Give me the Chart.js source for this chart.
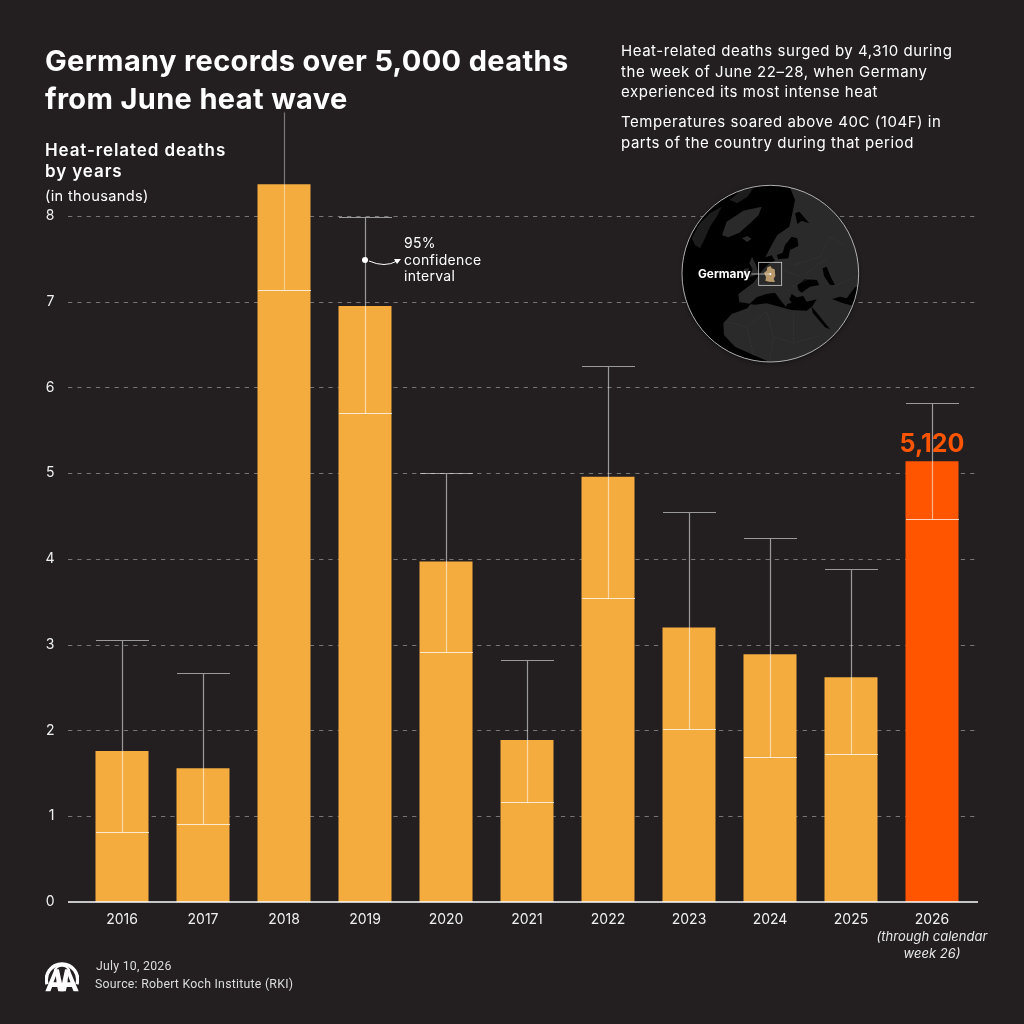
<!DOCTYPE html>
<html>
<head>
<meta charset="utf-8">
<title>Germany heat deaths</title>
<script src="https://cdn.jsdelivr.net/npm/chart.js@4/dist/chart.umd.min.js"></script>
<style>
  html, body { margin: 0; padding: 0; background: #231f20; }
  #wrap { position: relative; width: 1024px; height: 1024px; overflow: hidden; color: #fff; font-family: Inter, sans-serif; }
  #chart { position: absolute; left: 0; top: 0; }
  .txt { position: absolute; white-space: nowrap; }
  #title { left: 45px; top: 42px; font-size: 29px; line-height: 37.5px; font-weight: 700; letter-spacing: 0.35px; }
  #sub { left: 45px; top: 140px; font-size: 17px; line-height: 21px; font-weight: 600; letter-spacing: 0.9px; }
  #unit { left: 45px; top: 187px; font-size: 14.6px; line-height: 18px; letter-spacing: 0.35px; }
  #note1 { left: 621px; top: 41px; font-size: 15px; line-height: 20.6px; letter-spacing: 0.55px; }
  #note2 { left: 621px; top: 112px; font-size: 15px; line-height: 20.6px; letter-spacing: 0.55px; }
  #ci { left: 404px; top: 235px; font-size: 14px; line-height: 16.5px; letter-spacing: 0.3px; }
  #date { left: 96px; top: 959px; font-family: Roboto, sans-serif; font-size: 12.3px; letter-spacing: 0.25px; color: #ddd; }
  #source { left: 95px; top: 977px; font-family: Roboto, sans-serif; font-size: 12.3px; letter-spacing: 0.25px; color: #ddd; }
  #globe, #logo { position: absolute; }
  #globe { left: 660px; top: 170px; }
  #logo { left: 45px; top: 958px; }
  #glabel { left: 698px; top: 267px; font-size: 11.8px; font-weight: 700; }
</style>
</head>
<body>
<div id="wrap">
  <canvas id="chart" width="1024" height="1024"></canvas>

  <svg id="globe" width="220" height="200" viewBox="0 0 660 600">
    <defs>
      <clipPath id="disc"><circle cx="331" cy="311" r="265"/></clipPath>
      <filter id="shade" x="-20%" y="-20%" width="140%" height="140%"><feDropShadow dx="0" dy="4" stdDeviation="7" flood-color="#000" flood-opacity=".5"/></filter>
    </defs>
    <circle cx="331" cy="311" r="265" fill="#000" filter="url(#shade)"/>
    <g clip-path="url(#disc)" fill="#2a2a2a">
      <!-- canada -->
      <path d="M95 205 L120 160 L150 130 L185 110 L170 140 L150 170 L135 205 L120 235 L105 225Z" fill="#1c1c1c"/>
      <path d="M210 90 L240 62 L280 55 L262 80 L232 100Z" fill="#1c1c1c"/>
      <!-- greenland -->
      <path d="M186 196 L200 155 L250 122 L305 110 L296 135 L270 160 L238 188 L205 202Z"/>
      <path d="M246 205 L262 198 L274 206 L262 216Z"/>
      <!-- britain, ireland -->
      <path d="M276 260 L288 285 L296 312 L268 322 L278 298 L268 280Z"/>
      <path d="M252 298 L266 294 L264 314 L248 316Z"/>
      <!-- eurasia and africa -->
      <path d="M385 40 L405 90 L398 125 L388 170 L352 195 L335 225 L316 262 L335 256 L345 272 L325 282 L308 300 L280 338 L262 352 L235 372 L238 396 L272 402 L262 415 L215 432 L190 460 L192 495 L225 530 L280 555 L320 572 L340 610 L640 610 L640 40Z"/>
      <!-- seas -->
      <g fill="#000">
        <path d="M268 402 L290 382 L318 372 L345 368 L365 395 L378 410 L385 395 L395 372 L410 382 L430 378 L440 395 L470 388 L458 408 L440 422 L395 420 L350 408 L320 400 L285 404Z"/>
        <path d="M412 345 L435 328 L470 330 L478 345 L450 350 L425 368 L415 360Z"/>
        <path d="M488 295 L500 290 L512 320 L525 345 L510 345 L492 318Z"/>
        <path d="M350 255 L368 248 L375 225 L395 200 L412 205 L415 228 L390 240 L385 265 L355 268Z"/>
        <path d="M455 410 L468 425 L510 478 L495 472 L458 428Z"/>
        <path d="M516 387 L540 380 L560 385 L585 352 L600 350 L600 410 L570 405 L550 400Z"/>
        <path d="M405 130 L418 125 L448 160 L425 152 L412 162Z"/>
      </g>
      <path d="M338 360 L350 355 L385 385 L395 398 L382 402 L360 380Z"/>
    </g>
    <g clip-path="url(#disc)" fill="none" stroke="#3c3c3c" stroke-width="1.1">
      <path d="M195 455 L260 470 L320 425 M320 425 L340 500 L400 520 L470 500 M260 470 L280 555 M340 500 L330 570 M400 430 L400 520"/>
      <path d="M400 285 L480 260 L510 200 L560 230 M440 310 L500 265 M372 300 L420 320 M520 350 L590 320 M395 350 L450 325"/>
    </g>
    <circle cx="331" cy="311" r="265" fill="none" stroke="#d8d8d8" stroke-width="2.4"/>
    <path d="M322 292 L332 288 L335 295 L344 298 L346 318 L341 326 L345 336 L326 335 L316 332 L318 322 L312 308 L320 302Z" fill="#b89a6c"/>
    <rect x="296" y="277" width="69" height="69" fill="none" stroke="#cfcfcf" stroke-width="2.4"/>
    <path d="M274 312 L331 312" stroke="#e0e0e0" stroke-width="2" fill="none"/>
    <circle cx="331" cy="312" r="3" fill="#fff"/>
  </svg>

  <svg id="logo" width="34" height="34" viewBox="135 235 100 100">
    <path d="M141 312 A46 46 0 1 1 229 312" fill="none" stroke="#fff" stroke-width="10"/>
    <path d="M163 272 A24 24 0 0 1 207 272" fill="none" stroke="#fff" stroke-width="6"/>
    <path fill-rule="evenodd" fill="#fff" d="M136 333 L163 268 L176 268 L190 333 L174 333 L171 320 L156 320 L151 333Z M160 306 L169 306 L167 288Z"/>
    <path fill-rule="evenodd" fill="#fff" d="M234 333 L207 268 L194 268 L180 333 L196 333 L199 320 L214 320 L219 333Z M210 306 L201 306 L203 288Z"/>
  </svg>

  <div class="txt" id="title">Germany records over 5,000 deaths<br>from June heat wave</div>
  <div class="txt" id="sub">Heat-related deaths<br>by years</div>
  <div class="txt" id="unit">(in thousands)</div>
  <div class="txt" id="note1">Heat-related deaths surged by 4,310 during<br>the week of June 22–28, when Germany<br>experienced its most intense heat</div>
  <div class="txt" id="note2">Temperatures soared above 40C (104F) in<br>parts of the country during that period</div>
  <div class="txt" id="ci">95%<br>confidence<br>interval</div>
  <div class="txt" id="glabel">Germany</div>
  <div class="txt" id="date">July 10, 2026</div>
  <div class="txt" id="source">Source: Robert Koch Institute (RKI)</div>
</div>

<script>
const years = ['2016', '2017', '2018', '2019', '2020', '2021', '2022', '2023', '2024', '2025', '2026'];
const deaths = [1.76, 1.56, 8.37, 6.95, 3.97, 1.89, 4.96, 3.2, 2.89, 2.62, 5.14];
const ciLow = [0.82, 0.91, 7.14, 5.7, 2.92, 1.17, 3.55, 2.02, 1.69, 1.73, 4.47];
const ciHigh = [3.06, 2.67, 9.21, 7.99, 5.0, 2.82, 6.25, 4.55, 4.24, 3.88, 5.82];
const yTicks = [0, 1, 2, 3, 4, 5, 6, 7, 8];
const barColors = ['#f5ac3f', '#f5ac3f', '#f5ac3f', '#f5ac3f', '#f5ac3f', '#f5ac3f', '#f5ac3f', '#f5ac3f', '#f5ac3f', '#f5ac3f', '#ff5500'];
const lastLabel = '5,120';

const BAR_PCT = 53 / 81;
const LABEL_FONT = 'Inter, sans-serif';

// grid runs past the plot area on both sides, so it is drawn here
const gridPlugin = {
    id: 'grid',
    beforeDatasetsDraw(chart) {
        const ctx = chart.ctx;
        const y = chart.scales.y;
        ctx.save();
        ctx.lineWidth = 1;
        ctx.strokeStyle = 'rgba(255,255,255,0.38)';
        ctx.setLineDash([4.3, 5]);
        yTicks.forEach(v => {
            if (v === 0) return;
            const py = Math.round(y.getPixelForValue(v)) + 0.5;
            ctx.beginPath();
            ctx.moveTo(68, py);
            ctx.lineTo(978, py);
            ctx.stroke();
        });
        ctx.restore();
    }
};

const errorPlugin = {
    id: 'errorBars',
    afterDatasetsDraw(chart) {
        const ctx = chart.ctx;
        const x = chart.scales.x;
        const y = chart.scales.y;
        const half = x.width / years.length * BAR_PCT / 2;
        ctx.save();

        // axis line
        ctx.strokeStyle = '#fff';
        ctx.lineWidth = 1.5;
        ctx.beginPath();
        ctx.moveTo(68, y.getPixelForValue(0));
        ctx.lineTo(978, y.getPixelForValue(0));
        ctx.stroke();

        years.forEach((yr, i) => {
            const cx = Math.round(x.getPixelForValue(i)) + 0.5;
            const hi = Math.round(y.getPixelForValue(ciHigh[i])) + 0.5;
            const lo = Math.round(y.getPixelForValue(ciLow[i])) + 0.5;
            ctx.lineWidth = 1.2;
            ctx.strokeStyle = yr === '2018' ? 'rgba(255,255,255,0.4)' : 'rgba(255,255,255,0.55)';
            ctx.beginPath();
            ctx.moveTo(cx, hi);
            ctx.lineTo(cx, lo);
            // 2018 whisker has no cap in the original
            if (yr !== '2018') {
                ctx.moveTo(cx - half, hi);
                ctx.lineTo(cx + half, hi);
            }
            ctx.stroke();
            ctx.lineWidth = 1;
            ctx.strokeStyle = 'rgba(255,255,255,0.75)';
            ctx.beginPath();
            ctx.moveTo(cx - half, lo);
            ctx.lineTo(cx + half, lo);
            ctx.stroke();
        });

        // 5,120 label and the note under 2026
        const last = years.length - 1;
        const lastX = x.getPixelForValue(last);
        ctx.textAlign = 'center';
        ctx.fillStyle = '#ff5500';
        ctx.font = `700 25px ${LABEL_FONT}`;
        ctx.fillText(lastLabel, lastX, y.getPixelForValue(deaths[last]) - 9);
        ctx.fillStyle = '#e8e8e8';
        ctx.font = `italic 13px ${LABEL_FONT}`;
        ctx.fillText('(through calendar', lastX, 941);
        ctx.fillText('week 26)', lastX, 958);

        // 95% CI pointer on 2019
        const px = x.getPixelForValue(years.indexOf('2019'));
        const py = 260;
        ctx.fillStyle = '#fff';
        ctx.strokeStyle = '#fff';
        ctx.lineWidth = 1;
        ctx.beginPath();
        ctx.arc(px, py, 3, 0, Math.PI * 2);
        ctx.fill();
        ctx.beginPath();
        ctx.moveTo(px + 4, py + 1);
        ctx.quadraticCurveTo(px + 20, py + 8, px + 32, py + 1);
        ctx.stroke();
        ctx.beginPath();
        ctx.moveTo(px + 36, py - 1);
        ctx.lineTo(px + 29, py - 1);
        ctx.lineTo(px + 32, py + 4);
        ctx.closePath();
        ctx.fill();
        ctx.restore();
    }
};

new Chart(document.getElementById('chart'), {
    type: 'bar',
    data: {
        labels: years,
        datasets: [{
            data: deaths,
            backgroundColor: barColors,
            borderWidth: 0,
            categoryPercentage: 1,
            barPercentage: BAR_PCT
        }]
    },
    options: {
        responsive: false,
        animation: false,
        devicePixelRatio: 1,
        layout: { padding: { top: 104.5, right: 51.5, left: 0, bottom: 0 } },
        plugins: { legend: { display: false }, tooltip: { enabled: false } },
        scales: {
            x: {
                afterFit: s => { s.height = 122; },
                grid: { display: false, drawTicks: false },
                border: { display: false },
                ticks: { color: '#f0f0f0', padding: 9, autoSkip: false, maxRotation: 0, font: { family: LABEL_FONT, size: 14 } }
            },
            y: {
                min: 0,
                max: 9.3,
                afterFit: s => { s.width = 81.5; },
                afterBuildTicks: s => { s.ticks = yTicks.map(v => ({ value: v })); },
                grid: { display: false, drawTicks: false },
                border: { display: false },
                ticks: { color: '#f0f0f0', padding: 27, font: { family: LABEL_FONT, size: 14 } }
            }
        }
    },
    plugins: [gridPlugin, errorPlugin]
});
</script>
</body>
</html>
